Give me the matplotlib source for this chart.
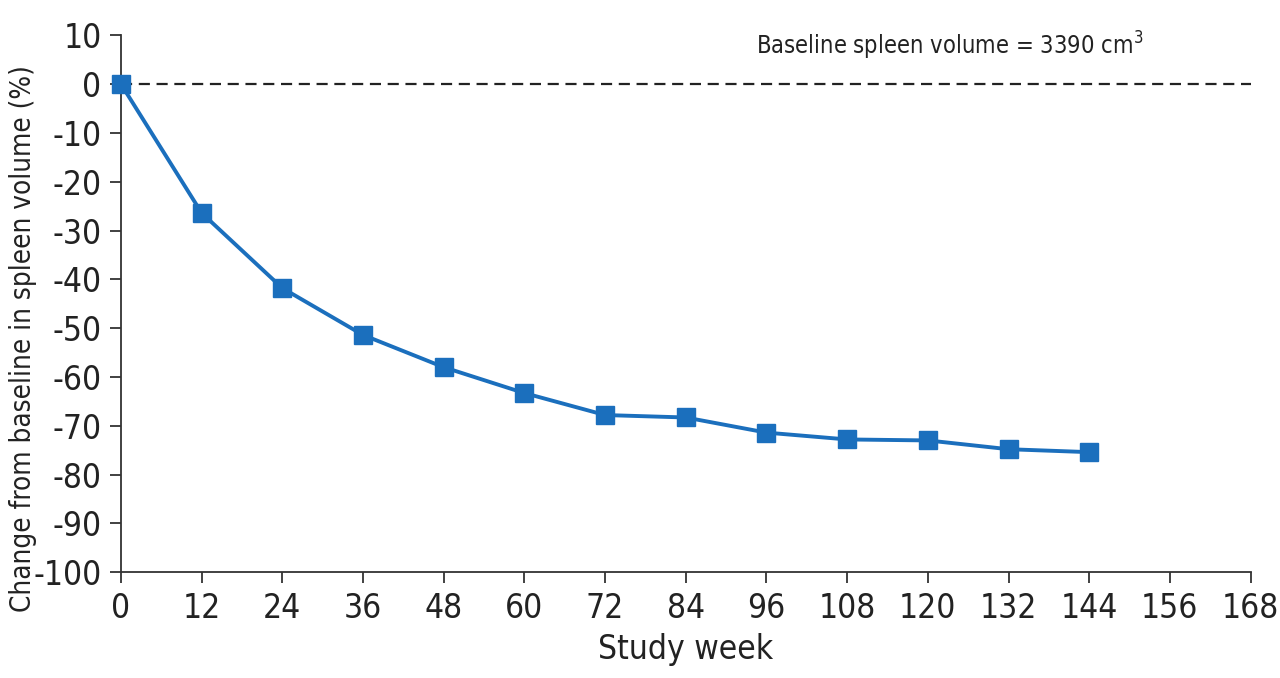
import matplotlib.pyplot as plt

# ===== data =====
weeks = [0, 12, 24, 36, 48, 60, 72, 84, 96, 108, 120, 132, 144]
change_pct = [0, -26.4, -41.8, -51.4, -58.0, -63.3, -67.8, -68.3, -71.4, -72.8, -73.0, -74.8, -75.4]
x_ticks = list(range(0, 169, 12))
y_ticks = list(range(-100, 11, 10))
note = "Baseline spleen volume = 3390 cm$^3$"

plt.rcParams['font.family'] = ['DejaVu Sans']
plt.rcParams['font.stretch'] = 'condensed'
plt.rcParams['axes.unicode_minus'] = False
plt.rcParams['mathtext.fontset'] = 'custom'

fig = plt.figure(figsize=(12.8, 6.78), dpi=100)
ax = fig.add_axes([0.0945, 0.156, 0.8825, 0.792])

ax.axhline(0, color='#222222', lw=1.6, ls=(0, (5, 3)), zorder=1)
ax.plot(weeks, change_pct, color='#1b6fbd', lw=2.8, marker='s', markersize=13,
        markerfacecolor='#1b6fbd', markeredgecolor='#1b6fbd', clip_on=False, zorder=3)

ax.text(0.734, 0.95, note, transform=ax.transAxes, fontsize=17, ha='center',
        va='bottom', color='#222222')

ax.set_xlim(0, 168)
ax.set_ylim(-100, 10)
ax.set_xticks(x_ticks)
ax.set_yticks(y_ticks)
ax.tick_params(labelsize=24, length=8, width=1.3, colors='#333333',
               labelcolor='#222222', pad=6)
for s in ['top', 'right']:
    ax.spines[s].set_visible(False)
for s in ['left', 'bottom']:
    ax.spines[s].set_linewidth(1.3)
    ax.spines[s].set_color('#333333')

ax.set_xlabel("Study week", fontsize=24, color='#222222', labelpad=6)
ax.set_ylabel("Change from baseline in spleen volume (%)", fontsize=20,
              color='#222222')
ax.yaxis.set_label_coords(-0.074, 0.435)

fig.savefig("out.png", dpi=100)
